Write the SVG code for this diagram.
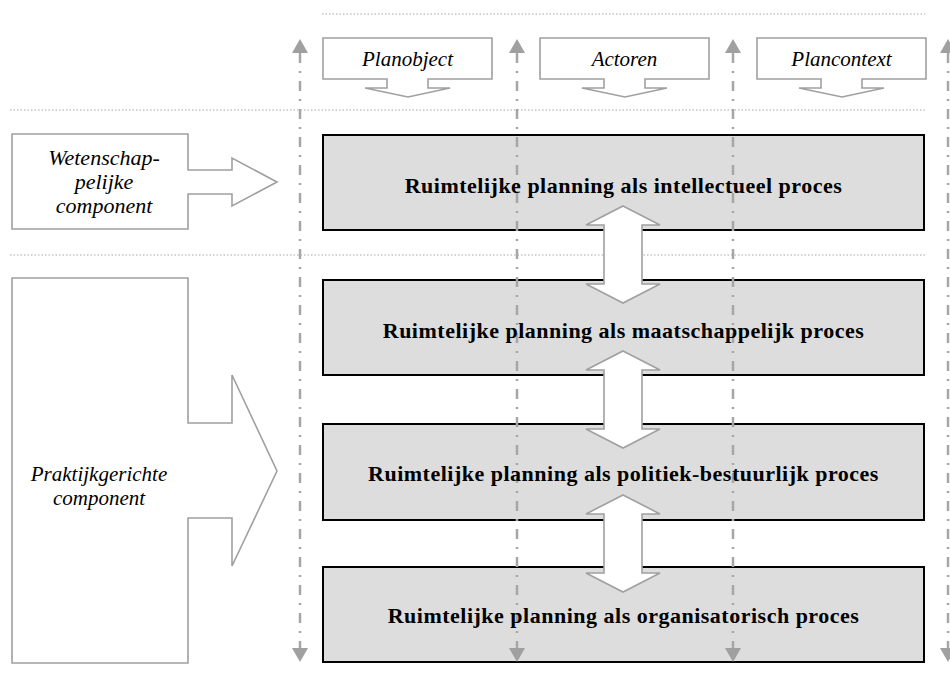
<svg xmlns="http://www.w3.org/2000/svg" xmlns:xlink="http://www.w3.org/1999/xlink" width="950" height="678" viewBox="0 0 950 678">
<style>
.dot{stroke:#a6a6a6;stroke-width:1;stroke-dasharray:1.5 2;fill:none}
.axis{stroke:#a6a6a6;stroke-width:2.5;stroke-dasharray:10 8 2 8;fill:none}
.proc{fill:#dddddd;stroke:#000;stroke-width:2}
.outl{fill:#fff;stroke:#a0a0a0;stroke-width:1.6}
.it{font-family:"Liberation Serif","Times New Roman",serif;font-style:italic;font-size:21px;fill:#000;text-anchor:middle}
.bd{font-family:"Liberation Serif","Times New Roman",serif;font-weight:bold;font-size:22px;letter-spacing:0.5px;fill:#000;text-anchor:middle}
</style>
<defs>
<marker id="ah" markerUnits="userSpaceOnUse" markerWidth="16" markerHeight="16" viewBox="0 0 14 16" refX="0" refY="8" orient="auto-start-reverse">
<path d="M0,0 L14,8 L0,16 Z" fill="#a0a0a0"/>
</marker>
<path id="callout" d="M0,38 H169 V79 H105 V88 H127 L85,97 L42,88 H64 V79 H0 Z"/>
<path id="dbl" d="M0,0 L37,19 H19 V78 H37 L0,97 L-37,78 H-19 V19 H-37 Z"/>
</defs>

<g id="guides">
<line class="dot" x1="322" y1="14" x2="925" y2="14"/>
<line class="dot" x1="10" y1="110" x2="925" y2="110"/>
<line class="dot" x1="10" y1="255" x2="925" y2="255"/>
</g>

<g id="planobject"><use xlink:href="#callout" class="outl" transform="translate(323,0)"/><text class="it" x="407.5" y="66">Planobject</text></g>
<g id="actoren"><use xlink:href="#callout" class="outl" transform="translate(540,0)"/><text class="it" x="624.5" y="66">Actoren</text></g>
<g id="plancontext"><use xlink:href="#callout" class="outl" transform="translate(757,0)"/><text class="it" x="841.5" y="66">Plancontext</text></g>

<g id="wetenschappelijk">
<path class="outl" d="M12,134 H188 V170 H232 V158 L277,182 L232,206 V194 H188 V229 H12 Z"/>
<text class="it" x="104" y="165" style="font-size:22px">Wetenschap-</text>
<text class="it" x="104" y="189" style="font-size:22px">pelijke</text>
<text class="it" x="104" y="213" style="font-size:22px">component</text>
</g>
<g id="praktijk">
<path class="outl" d="M12,278 H188 V423 H232 V375 L277,471 L232,566 V518 H188 V663 H12 Z"/>
<text class="it" x="99" y="481">Praktijkgerichte</text>
<text class="it" x="99" y="505">component</text>
</g>

<g id="p1"><rect class="proc" x="323" y="135" width="601" height="95"/></g>
<g id="p2"><rect class="proc" x="323" y="280" width="601" height="95"/></g>
<g id="p3"><rect class="proc" x="323" y="424" width="601" height="96"/></g>
<g id="p4"><rect class="proc" x="323" y="567" width="601" height="95"/></g>

<g id="connectors">
<line class="axis" x1="300" y1="53" x2="300" y2="648" marker-start="url(#ah)" marker-end="url(#ah)"/>
<line class="axis" x1="517" y1="53" x2="517" y2="648" marker-start="url(#ah)" marker-end="url(#ah)"/>
<line class="axis" x1="733" y1="53" x2="733" y2="648" marker-start="url(#ah)" marker-end="url(#ah)"/>
<line class="axis" x1="948" y1="53" x2="948" y2="648" marker-start="url(#ah)" marker-end="url(#ah)"/>
<use xlink:href="#dbl" class="outl" transform="translate(623,206)"/>
<use xlink:href="#dbl" class="outl" transform="translate(623,351)"/>
<use xlink:href="#dbl" class="outl" transform="translate(623,495)"/>
</g>

<g id="labels">
<text class="bd" x="623.5" y="193">Ruimtelijke planning als intellectueel proces</text>
<text class="bd" x="623.5" y="338">Ruimtelijke planning als maatschappelijk proces</text>
<text class="bd" x="623.5" y="481">Ruimtelijke planning als politiek-bestuurlijk proces</text>
<text class="bd" x="623.5" y="623">Ruimtelijke planning als organisatorisch proces</text>
</g>
</svg>
